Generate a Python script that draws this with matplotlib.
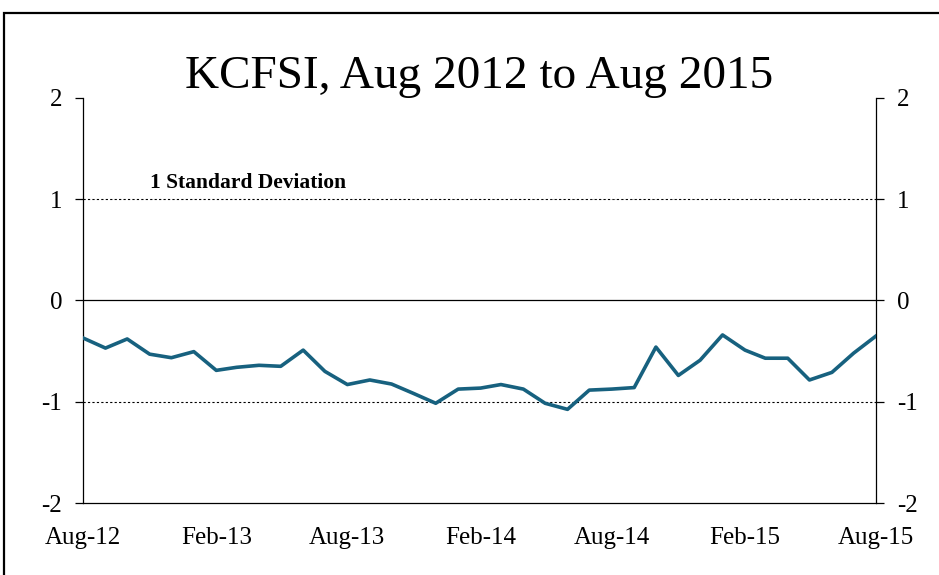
import matplotlib
matplotlib.use("Agg")
import matplotlib.pyplot as plt
import matplotlib.dates as mdates
from matplotlib.patches import Rectangle
import pandas as pd

# monthly KCFSI readings, Aug 2012 .. Aug 2015
months = pd.date_range("2012-08-01", "2015-08-01", freq="MS")
kcfsi = [-0.37, -0.47, -0.38, -0.53, -0.565, -0.505, -0.69, -0.66, -0.64, -0.65,
         -0.49, -0.70, -0.83, -0.785, -0.825, -0.92, -1.015, -0.875, -0.865, -0.83,
         -0.875, -1.015, -1.075, -0.885, -0.875, -0.86, -0.46, -0.74, -0.59, -0.34,
         -0.49, -0.57, -0.57, -0.785, -0.71, -0.52, -0.35]
yticks = [-2, -1, 0, 1, 2]
sd_label = "1 Standard Deviation"
title = "KCFSI, Aug 2012 to Aug 2015"

plt.rcParams["font.family"] = ["Liberation Serif", "DejaVu Serif"]
plt.rcParams["axes.unicode_minus"] = False

fig = plt.figure(figsize=(9.39, 5.75), dpi=100)
ax = fig.add_axes([0.0884, 0.1252, 0.8446, 0.7044])

# outer frame of the picture (runs off right and bottom)
fig.patches.append(Rectangle((4 / 939, -0.1), 1.2, 1 - 13 / 575 + 0.1,
                             transform=fig.transFigure, fill=False,
                             edgecolor="black", lw=1.6))

ax.axhline(0, color="black", lw=0.9, zorder=1)
for lvl in (1, -1):
    ax.axhline(lvl, color="black", lw=0.8, ls=(0, (2, 2)), zorder=1)

ax.plot(months, kcfsi, color="#17617F", lw=2.6, zorder=3)

ax.text(months[3], 1.06, sd_label, fontsize=15.5, fontweight="bold", va="bottom")

ax.set_xlim(months[0], months[-1])
ax.set_ylim(-2, 2)
ax.set_yticks(yticks)
ax.xaxis.set_major_locator(mdates.MonthLocator(bymonth=[2, 8]))
ax.xaxis.set_major_formatter(mdates.DateFormatter("%b-%y"))

ax.spines["top"].set_visible(False)
for s in ("left", "right", "bottom"):
    ax.spines[s].set_linewidth(0.9)

ax.tick_params(axis="y", which="both", direction="out", length=6, width=0.9,
               labelsize=18, pad=9, left=True, right=True,
               labelleft=True, labelright=True)
ax.tick_params(axis="x", length=0, labelsize=18, pad=17)

ax.set_title(title, fontsize=34, pad=5)

fig.savefig("out.png", dpi=100)
